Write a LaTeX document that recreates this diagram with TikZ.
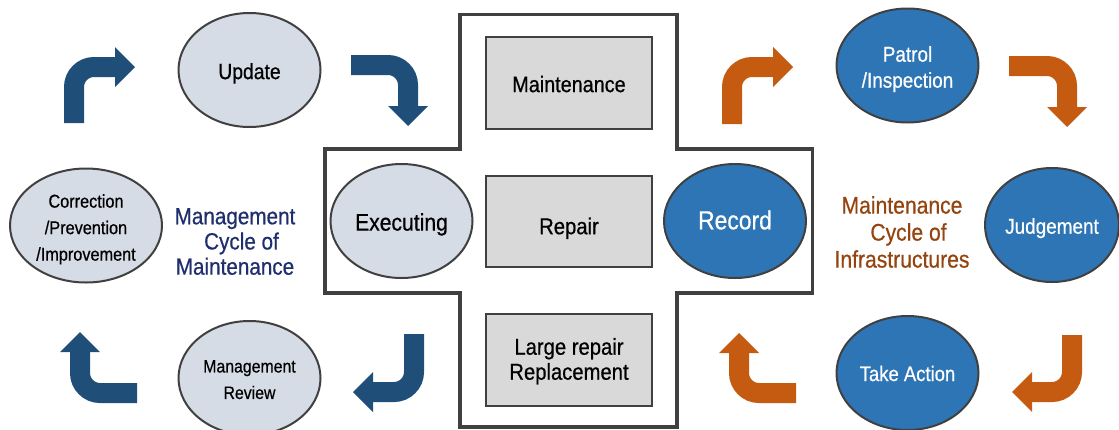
\documentclass[tikz,border=0pt]{standalone}
\usepackage{fontspec}
\setmainfont[FakeStretch=0.88, FakeBold=0.6]{Liberation Sans}
\usetikzlibrary{shapes.geometric,calc}

\definecolor{navyarrow}{HTML}{1F4E79}
\definecolor{orangearrow}{HTML}{C55A11}
\definecolor{lightfill}{HTML}{D6DCE5}
\definecolor{bluefill}{HTML}{2E75B6}
\definecolor{boxfill}{HTML}{D9D9D9}
\definecolor{outline}{HTML}{404040}
\definecolor{mgmttitle}{HTML}{1F2F6E}
\definecolor{infratitle}{HTML}{94440F}

\newcommand\fs[2]{\fontsize{#1}{#2}\selectfont}
% centred lines of text, lowered by #1 without changing the box size
\newcommand\celltext[2]{\raisebox{-#1}[\height][\depth]{\begin{tabular}{@{}c@{}}#2\end{tabular}}}
% triangular head of a block arrow: base point #2, tip #3
\newcommand\blockhead[3]{\fill[#1] ($(#2)!20pt!90:(#3)$) -- (#3) -- ($(#2)!20pt!-90:(#3)$) -- cycle;}

\tikzset{
  cyc/.style={ellipse, draw=outline, line width=2pt, inner sep=0pt,
    minimum width=142pt, minimum height=114pt},
  lightcyc/.style={cyc, fill=lightfill, text=black},
  darkcyc/.style={cyc, fill=bluefill, text=white},
  task/.style={rectangle, draw=outline, line width=2.5pt, fill=boxfill,
    minimum width=166pt, minimum height=92pt, inner sep=0pt},
  shaft/.style={line width=20pt, rounded corners=20pt},
  title/.style={align=center, inner sep=0pt},
}

\begin{document}
\begin{tikzpicture}[x=1pt, y=-1pt]
\useasboundingbox (0,0) rectangle (1119,429);

% cross-shaped frame
\draw[outline, line width=3.5pt, line join=miter]
  (460,14.5) -- (677,14.5) -- (677,149) -- (812.5,149) -- (812.5,293)
  -- (677,293) -- (677,427) -- (460,427) -- (460,293) -- (325,293)
  -- (325,149) -- (460,149) -- cycle;

% central work items
\node[task, font=\fs{22.5}{25}] (maint) at (569,83) {\celltext{4.1pt}{Maintenance}};
\node[task, minimum height=91pt, font=\fs{23}{25}] (repair) at (569,221.5) {\celltext{7.7pt}{Repair}};
\node[task, font=\fs{23}{25}] (large) at (569,360) {\celltext{2.2pt}{Large repair\\Replacement}};

% management cycle
\node[lightcyc, font=\fs{22}{26}] (update) at (249.5,70) {\celltext{3.9pt}{Update}};
\node[lightcyc, font=\fs{24}{26}] (exec) at (401.5,221) {\celltext{4.4pt}{Executing}};
\node[lightcyc, font=\fs{18}{26.5}] (review) at (249.5,378) {\celltext{2.4pt}{Management\\Review}};
\node[lightcyc, minimum width=152pt, font=\fs{18.5}{26.5}] (corr) at (86,225.5)
  {\celltext{3.3pt}{Correction\\/Prevention\\/Improvement}};
\node[title, text=mgmttitle, font=\fs{23.5}{25.2}] (mgmt) at (235,241.5)
  {Management\\\hspace*{13pt}Cycle of\\Maintenance};

% infrastructure cycle
\node[darkcyc, font=\fs{26}{28}] (record) at (735,221) {\celltext{2.7pt}{Record}};
\node[darkcyc, font=\fs{21.5}{26}] (patrol) at (907.5,65.5) {\celltext{4pt}{Patrol\\/Inspection}};
\node[darkcyc, minimum width=134pt, font=\fs{21.5}{26}] (judge) at (1052,225) {\celltext{3.5pt}{Judgement}};
\node[darkcyc, font=\fs{21}{26}] (action) at (907.5,373) {\celltext{2.8pt}{Take Action}};
\node[title, text=infratitle, font=\fs{24}{27}] (infra) at (902,232)
  {Maintenance\\\hspace*{13pt}Cycle of\\Infrastructures};

% block arrows of the management cycle
\coordinate (b1s) at (74,123);   \coordinate (b1b) at (115,67);  \coordinate (b1t) at (135,67);
\coordinate (b2s) at (351,65);   \coordinate (b2b) at (408,106); \coordinate (b2t) at (408,126);
\coordinate (b3s) at (414,334);  \coordinate (b3b) at (373,392); \coordinate (b3t) at (353,392);
\coordinate (b4s) at (137,393);  \coordinate (b4b) at (80,352);  \coordinate (b4t) at (80,332);
\draw[shaft, navyarrow] (b1s) |- (b1b);
\draw[shaft, navyarrow] (b2s) -| (b2b);
\draw[shaft, navyarrow] (b3s) |- (b3b);
\draw[shaft, navyarrow] (b4s) -| (b4b);
\blockhead{navyarrow}{b1b}{b1t}
\blockhead{navyarrow}{b2b}{b2t}
\blockhead{navyarrow}{b3b}{b3t}
\blockhead{navyarrow}{b4b}{b4t}

% block arrows of the infrastructure cycle
\coordinate (o1s) at (732,124);  \coordinate (o1b) at (773,67);   \coordinate (o1t) at (793,67);
\coordinate (o2s) at (1009,66);  \coordinate (o2b) at (1067,107); \coordinate (o2t) at (1067,127);
\coordinate (o3s) at (1072,335); \coordinate (o3b) at (1032,392); \coordinate (o3t) at (1012,392);
\coordinate (o4s) at (796,393);  \coordinate (o4b) at (739,353);  \coordinate (o4t) at (739,333);
\draw[shaft, orangearrow] (o1s) |- (o1b);
\draw[shaft, orangearrow] (o2s) -| (o2b);
\draw[shaft, orangearrow] (o3s) |- (o3b);
\draw[shaft, orangearrow] (o4s) -| (o4b);
\blockhead{orangearrow}{o1b}{o1t}
\blockhead{orangearrow}{o2b}{o2t}
\blockhead{orangearrow}{o3b}{o3t}
\blockhead{orangearrow}{o4b}{o4t}
\end{tikzpicture}
\end{document}
